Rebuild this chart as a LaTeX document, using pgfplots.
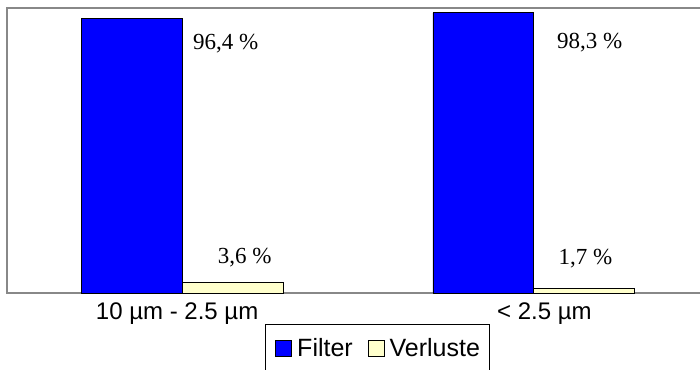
\documentclass[border=0pt]{standalone}
\usepackage{pgfplots}
\pgfplotsset{compat=1.18}
\usepackage{fontspec}
\setmainfont{Liberation Serif}
\newfontfamily\arial{Liberation Sans}
\definecolor{barblue}{HTML}{0000FF}
\definecolor{baryellow}{HTML}{FFFFCC}
\definecolor{frame}{HTML}{888888}
\begin{document}
\begin{tikzpicture}[x=1bp,y=1bp]
\useasboundingbox (0,-369) rectangle (700,0);
\clip (0,-369) rectangle (700,0);
\begin{axis}[
  at={(7bp,-8bp)}, anchor=north west,
  scale only axis, width=702.5bp, height=285bp,
  xmin=-0.5, xmax=1.5, ymin=0, ymax=100,
  axis line style={draw=frame, line width=1.5bp},
  ytick=\empty,
  xtick={-0.0157,1.0299},
  xticklabels={10 µm - 2.5 µm, < 2.5 µm},
  major tick length=0pt,
  xticklabel style={font=\arial\fontsize{24bp}{28bp}\selectfont, yshift=-6bp},
  legend columns=2,
  legend style={at={(axis description cs:0.3673,-0.1088)}, anchor=north west,
    draw=black, line width=0.8bp, inner xsep=4bp, inner ysep=6bp,
    font=\arial\fontsize{25bp}{29bp}\selectfont,
    nodes={inner xsep=5bp, inner ysep=8bp, font=\arial\fontsize{25bp}{29bp}\selectfont},
    /tikz/every even column/.append style={column sep=4bp},
    /tikz/every odd column/.append style={column sep=0bp}},
]
\addplot[ybar, bar width=0.2875, bar shift=-0.14375, fill=barblue, draw=black, line width=0.8bp,
  legend image code/.code={\path (0bp,0bp); \draw[fill=barblue, draw=black, line width=0.8bp] (6bp,-8bp) rectangle (22bp,8bp);}]
  coordinates {(0,96.4) (1,98.3)};
\addlegendentry{Filter}
\addplot[ybar, bar width=0.2875, bar shift=0.14375, fill=baryellow, draw=black, line width=0.8bp,
  legend image code/.code={\path (0bp,0bp); \draw[fill=baryellow, draw=black, line width=0.8bp] (6bp,-8bp) rectangle (22bp,8bp);}]
  coordinates {(0,3.6) (1,1.7)};
\addlegendentry{Verluste}
\node[font=\fontsize{23bp}{26bp}\selectfont] at (axis cs:0.1224,87.6) {96,4 \%};
\node[font=\fontsize{23bp}{26bp}\selectfont] at (axis cs:0.177,12.3) {3,6 \%};
\node[font=\fontsize{23bp}{26bp}\selectfont] at (axis cs:1.159,87.7) {98,3 \%};
\node[font=\fontsize{23bp}{26bp}\selectfont] at (axis cs:1.147,11.9) {1,7 \%};
\end{axis}
\end{tikzpicture}
\end{document}
